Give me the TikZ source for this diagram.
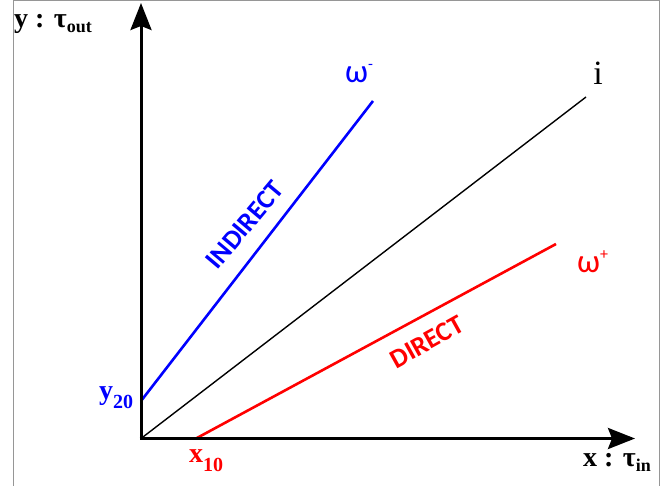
\documentclass[tikz,border=0pt]{standalone}
\usepackage{fontspec}
\setmainfont{Liberation Serif}
\newfontfamily\calfont{Carlito}
\usetikzlibrary{arrows.meta}
\definecolor{myblue}{RGB}{0,0,255}
\definecolor{myred}{RGB}{255,0,0}
\definecolor{frame}{RGB}{150,150,150}
\tikzset{
  axis/.style={line width=3pt,-{Stealth[length=27pt,width=21pt,inset=4pt]}},
  ident/.style={line width=1.4pt,black},
  bluel/.style={line width=2.6pt,myblue},
  redl/.style={line width=2.6pt,myred},
  serlab/.style={inner sep=0pt,font=\fontsize{28}{30}\selectfont\bfseries},
  callab/.style={inner sep=0pt,font=\calfont\fontsize{33}{35}\selectfont},
  tag/.style={inner sep=0pt,font=\calfont\bfseries\fontsize{27}{30}\selectfont},
}
\begin{document}
\begin{tikzpicture}[x=1pt,y=-1pt]
\useasboundingbox (0,0) rectangle (668,486);
\draw[frame,line width=1.2pt] (13.6,500) -- (13.6,0.6) -- (659.6,0.6) -- (659.6,500);
% coordinates
\coordinate (O) at (141,438.5);
\coordinate (Ytop) at (141,3);
\coordinate (Xend) at (635,438.5);
\coordinate (Iend) at (586,97);
\coordinate (B0) at (141,401);
\coordinate (B1) at (373,101);
\coordinate (R0) at (196,438.5);
\coordinate (R1) at (556,244);
% lines
\draw[ident] (O) -- (Iend);
\draw[bluel] (B0) -- (B1);
\draw[redl] (R0) -- (R1);
\draw[axis] (O) -- (Ytop);
\draw[axis] ([xshift=-1.5pt]O) -- (Xend);
% labels
\node[serlab,anchor=base west] (ylab) at (14,28) {y : τ\raisebox{-5pt}{\fontsize{18}{18}\selectfont out}};
\node[serlab,anchor=base west] (xlab) at (583,466) {x : τ\raisebox{-5pt}{\fontsize{18}{18}\selectfont in}};
\node[inner sep=0pt,font=\fontsize{34}{36}\selectfont,anchor=base] (ilab) at (598,85) {i};
\node[serlab,myblue,anchor=base west] (y20) at (99,399) {y\raisebox{-9pt}{\fontsize{20}{20}\selectfont 20}};
\node[serlab,myred,anchor=base west] (x10) at (189,462) {x\raisebox{-9pt}{\fontsize{20}{20}\selectfont 10}};
\node[callab,myblue,anchor=base west] (wm) at (345,83) {ω\raisebox{13pt}{\fontsize{16}{16}\selectfont -}};
\node[callab,myred,anchor=base west] (wp) at (577,272) {ω\raisebox{13pt}{\fontsize{16}{16}\selectfont +}};
\node[tag,myblue,rotate=50] (ind) at (245,225) {INDIRECT};
\node[tag,myred,rotate=29] (dir) at (427,342) {DIRECT};
\end{tikzpicture}
\end{document}
